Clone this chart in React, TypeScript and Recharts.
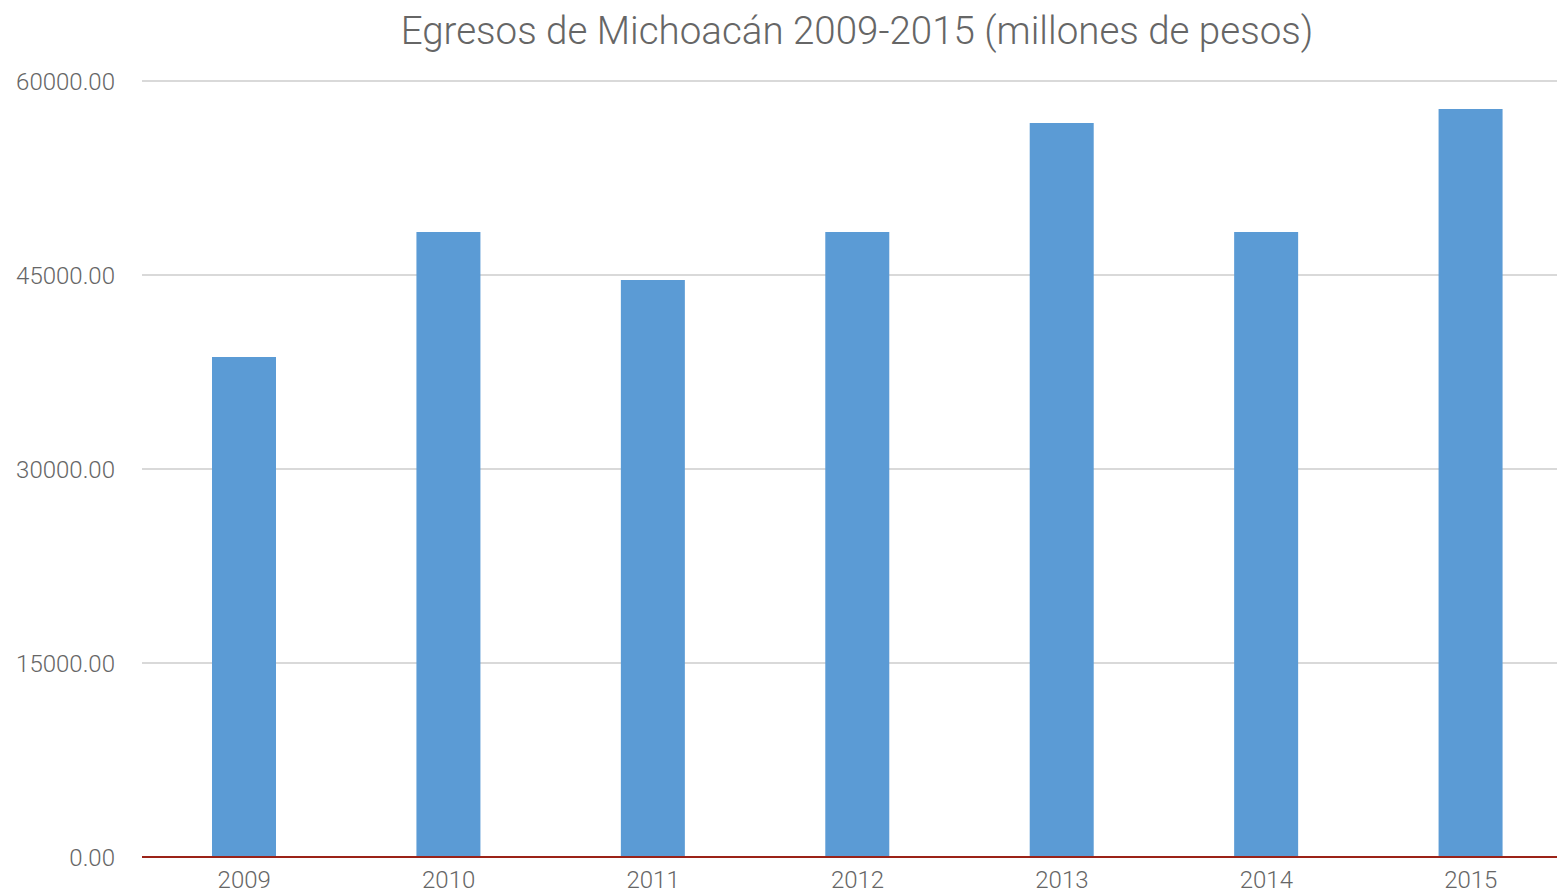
import { Bar, BarChart, CartesianGrid, XAxis, YAxis } from "recharts";

const years = ["2009", "2010", "2011", "2012", "2013", "2014", "2015"];
const egresos = [38660, 48320, 44610, 48320, 56750, 48320, 57840];
const yTicks = [0, 15000, 30000, 45000, 60000];

const data = years.map((year, i) => ({ year, egresos: egresos[i] }));

const FONT = "Roboto, 'Liberation Sans', sans-serif";
const tickStyle = { fill: "#666666", fontSize: 24, fontFamily: FONT, fontWeight: 300 };

export default function App() {
  return (
    <div
      style={{
        position: "absolute",
        left: 0,
        top: 0,
        width: 1557,
        height: 894,
        overflow: "hidden",
        background: "#fff",
      }}
    >
      <div
        style={{
          position: "absolute",
          left: 0,
          width: 1714,
          top: 8,
          textAlign: "center",
          fontFamily: FONT,
          fontWeight: 300,
          fontSize: 38.5,
          color: "#666666",
          lineHeight: "46px",
        }}
      >
        Egresos de Michoacán 2009-2015 (millones de pesos)
      </div>
      <BarChart
        width={1573}
        height={894}
        data={data}
        margin={{ top: 81, right: 0, bottom: 0, left: 0 }}
      >
        <CartesianGrid horizontal vertical={false} stroke="#d9d9d9" strokeWidth={2} />
        <XAxis
          dataKey="year"
          height={37}
          tickLine={false}
          tickSize={0}
          tickMargin={14}
          axisLine={{ stroke: "#9b2318", strokeWidth: 2 }}
          tick={tickStyle}
        />
        <YAxis
          width={142}
          domain={[0, 60000]}
          ticks={yTicks}
          tickFormatter={(v: number) => v.toFixed(2)}
          axisLine={false}
          tickLine={false}
          tickSize={0}
          tickMargin={27}
          tick={tickStyle}
        />
        <Bar dataKey="egresos" fill="#5b9bd5" barSize={64} isAnimationActive={false} />
      </BarChart>
    </div>
  );
}
